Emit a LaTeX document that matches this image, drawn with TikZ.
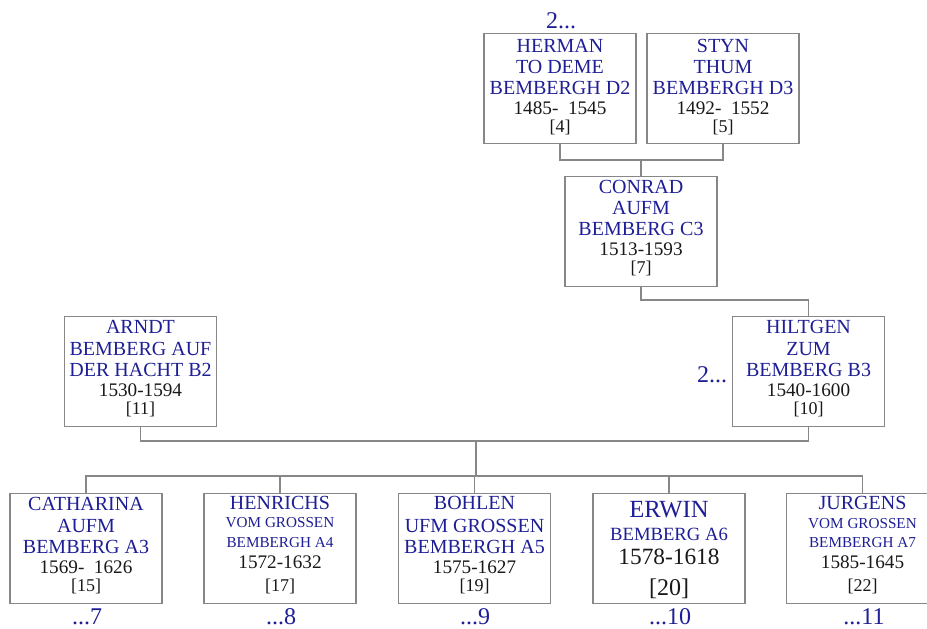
\documentclass[tikz,border=0pt]{standalone}
\usepackage{fontspec}
\setmainfont{Liberation Serif}
\definecolor{nameblue}{RGB}{30,30,150}
\definecolor{boxgray}{RGB}{135,135,135}
\definecolor{txt}{RGB}{25,25,25}
\tikzset{
  pbox/.style={draw=boxgray, line width=1pt, fill=white, minimum width=114pt, minimum height=82.5pt, inner sep=0pt, anchor=north},
  conn/.style={draw=boxgray, line width=0.9pt},
  nm/.style={text=nameblue, font=\fontsize{15}{18}\selectfont, inner sep=0pt, anchor=base},
  nms/.style={text=nameblue, font=\fontsize{11.4}{13}\selectfont, inner sep=0pt, anchor=base},
  nmb/.style={text=nameblue, font=\fontsize{18.5}{22}\selectfont, inner sep=0pt, anchor=base},
  nmm/.style={text=nameblue, font=\fontsize{14}{17}\selectfont, inner sep=0pt, anchor=base},
  yr/.style={text=txt, font=\fontsize{14.4}{17}\selectfont, inner sep=0pt, anchor=base},
  yrb/.style={text=txt, font=\fontsize{17.5}{21}\selectfont, inner sep=0pt, anchor=base},
  idx/.style={text=txt, font=\fontsize{13.5}{16}\selectfont, inner sep=0pt, anchor=base},
  idxb/.style={text=txt, font=\fontsize{18}{21}\selectfont, inner sep=0pt, anchor=base},
  lbl/.style={text=nameblue, font=\fontsize{18}{21}\selectfont, inner sep=0pt, anchor=base},
}
\begin{document}
\begin{tikzpicture}[x=0.75pt,y=-0.75pt]
\useasboundingbox (0,0) rectangle (927,628);
\fill[white] (0,0) rectangle (927,628);
\clip (0,0) rectangle (927,628);

% boxes
\node[pbox] (D2) at (560,33) {};
\node[pbox] (D3) at (723,33) {};
\node[pbox] (C3) at (641,176) {};
\node[pbox] (B2) at (140.5,316) {};
\node[pbox] (B3) at (808.5,316) {};
\node[pbox] (A3) at (86,493) {};
\node[pbox] (A4) at (280,493) {};
\node[pbox] (A5) at (474.5,493) {};
\node[pbox] (A6) at (669,493) {};
\node[pbox] (A7) at (862.5,493) {};

% connectors
\coordinate (j1) at (641,160);
\coordinate (j2) at (808.5,300);
\coordinate (j3) at (476,441);
\coordinate (j4) at (476,476);
\draw[conn] (D2.south) |- (j1) -| (D3.south);
\draw[conn] (j1) -- (C3.north);
\draw[conn] (C3.south) |- (j2) -- (B3.north);
\draw[conn] (B2.south) |- (j3) -| (B3.south);
\draw[conn] (j3) -- (j4);
\draw[conn] (j4) -| (A3.north);
\draw[conn] (j4) -| (A4.north);
\draw[conn] (j4) -| (A5.north);
\draw[conn] (j4) -| (A6.north);
\draw[conn] (j4) -| (A7.north);

% D2
\node[nm] (D2a) at (560,52) {HERMAN};
\node[nm] (D2b) at (560,73) {TO DEME};
\node[nm] (D2c) at (560,94) {BEMBERGH D2};
\node[yr] (D2d) at (560,114) {1485-\ \ 1545};
\node[idx] (D2e) at (560,132) {[4]};
% D3
\node[nm] (D3a) at (723,52) {STYN};
\node[nm] (D3b) at (723,73) {THUM};
\node[nm] (D3c) at (723,94) {BEMBERGH D3};
\node[yr] (D3d) at (723,114) {1492-\ \ 1552};
\node[idx] (D3e) at (723,132) {[5]};
% C3
\node[nm] (C3a) at (641,193) {CONRAD};
\node[nm] (C3b) at (641,214) {AUFM};
\node[nm] (C3c) at (641,235) {BEMBERG C3};
\node[yr] (C3d) at (641,255) {1513-1593};
\node[idx] (C3e) at (641,273) {[7]};
% B2
\node[nm] (B2a) at (140.5,333) {ARNDT};
\node[nm] (B2b) at (140.5,355) {BEMBERG AUF};
\node[nm] (B2c) at (140.5,376) {DER HACHT B2};
\node[yr] (B2d) at (140.5,396) {1530-1594};
\node[idx] (B2e) at (140.5,414) {[11]};
% B3
\node[nm] (B3a) at (808.5,333) {HILTGEN};
\node[nm] (B3b) at (808.5,355) {ZUM};
\node[nm] (B3c) at (808.5,376) {BEMBERG B3};
\node[yr] (B3d) at (808.5,396) {1540-1600};
\node[idx] (B3e) at (808.5,414) {[10]};
% A3
\node[nm] (A3a) at (86,510) {CATHARINA};
\node[nm] (A3b) at (86,532) {AUFM};
\node[nm] (A3c) at (86,553) {BEMBERG A3};
\node[yr] (A3d) at (86,573) {1569-\ \ 1626};
\node[idx] (A3e) at (86,591) {[15]};
% A4
\node[nm] (A4a) at (280,509) {HENRICHS};
\node[nms] (A4b) at (280,527) {VOM GROSSEN};
\node[nms] (A4c) at (280,547) {BEMBERGH A4};
\node[yr] (A4d) at (280,568) {1572-1632};
\node[idx] (A4e) at (280,591) {[17]};
% A5
\node[nm] (A5a) at (474.5,509) {BOHLEN};
\node[nm] (A5b) at (474.5,532) {UFM GROSSEN};
\node[nm] (A5c) at (474.5,553) {BEMBERGH A5};
\node[yr] (A5d) at (474.5,573) {1575-1627};
\node[idx] (A5e) at (474.5,591) {[19]};
% A6
\node[nmb] (A6a) at (669,517) {ERWIN};
\node[nmm] (A6b) at (669,540) {BEMBERG A6};
\node[yrb] (A6c) at (669,564) {1578-1618};
\node[idxb] (A6d) at (669,595) {[20]};
% A7
\node[nm] (A7a) at (862.5,509) {JURGENS};
\node[nms] (A7b) at (862.5,528) {VOM GROSSEN};
\node[nms] (A7c) at (862.5,547) {BEMBERGH A7};
\node[yr] (A7d) at (862.5,568) {1585-1645};
\node[idx] (A7e) at (862.5,591) {[22]};

% continuation labels
\node[lbl] (L1) at (561,28) {2...};
\node[lbl] (L2) at (712,382) {2...};
\node[lbl] (L3) at (87,624) {...7};
\node[lbl] (L4) at (281,624) {...8};
\node[lbl] (L5) at (475,624) {...9};
\node[lbl] (L6) at (670,624) {...10};
\node[lbl] (L7) at (864,624) {...11};
\end{tikzpicture}
\end{document}
